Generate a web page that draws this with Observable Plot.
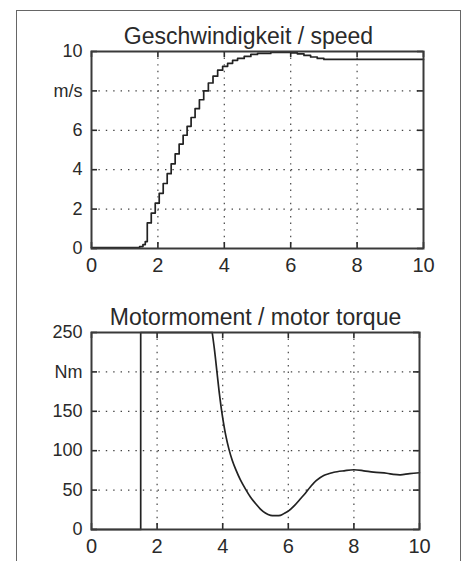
<!DOCTYPE html>
<html>
<head>
<meta charset="utf-8">
<script src="https://cdn.jsdelivr.net/npm/d3@7"></script>
<script src="https://cdn.jsdelivr.net/npm/@observablehq/plot@0.6"></script>
<style>
  html, body { margin: 0; padding: 0; background: #fff; }
  body { width: 466px; height: 561px; position: relative; overflow: hidden; font-family: "Liberation Sans", Arial, sans-serif; }
  #frame { position: absolute; left: 16px; top: 10px; width: 445px; height: 620px; border: 1.5px solid #666; box-sizing: border-box; }
  #topPanel { position: absolute; left: 0; top: 0; }
  #bottomPanel { position: absolute; left: 0; top: 280px; }
  svg { background: transparent !important; }
</style>
</head>
<body>
<div id="frame"></div>
<div id="topPanel"></div>
<div id="bottomPanel"></div>
<script>
// ---- data ----
const speedTitle = "Geschwindigkeit / speed";
const torqueTitle = "Motormoment / motor torque";
const xTicks = [0, 2, 4, 6, 8, 10];
const xGrid = [2, 4, 6, 8];
const speedTicks = [0, 2, 4, 6, 8, 10];
const speedGrid = [2, 4, 6, 8];
const speedUnit = "m/s";   // replaces tick 8
const torqueTicks = [0, 50, 100, 150, 200, 250];
const torqueGrid = [50, 100, 150, 200];
const torqueUnit = "Nm";   // replaces tick 200

const speedT = [0, 1.45, 1.55, 1.62, 1.68, 1.80, 1.92, 2.04, 2.16, 2.28, 2.40, 2.52, 2.64, 2.76, 2.88, 3.00, 3.12, 3.25, 3.38, 3.52, 3.66, 3.80, 3.95, 4.10, 4.25, 4.40, 4.60, 4.80, 5.00, 5.40, 6.00, 6.20, 6.40, 6.60, 6.80, 7.00, 10];
const speedV = [0.05, 0.1, 0.2, 0.35, 1.3, 1.8, 2.3, 2.8, 3.3, 3.8, 4.3, 4.8, 5.3, 5.75, 6.2, 6.65, 7.1, 7.55, 8.0, 8.4, 8.75, 9.05, 9.25, 9.4, 9.55, 9.65, 9.75, 9.85, 9.9, 9.95, 9.93, 9.88, 9.8, 9.72, 9.65, 9.6, 9.6];

// torque: switch-on step (first 4 points) followed by the smooth response
const torqueT = [0, 1.5, 1.5, 3.68, 3.75, 3.83, 3.9, 3.98, 4.09, 4.19, 4.29, 4.4, 4.54, 4.7, 4.85, 5.0, 5.15, 5.3, 5.46, 5.6, 5.76, 5.9, 6.02, 6.2, 6.37, 6.52, 6.67, 6.85, 7.08, 7.25, 7.39, 7.7, 8.0, 8.3, 8.6, 9.0, 9.2, 9.42, 9.7, 10];
const torqueV = [0, 0, 250, 250, 228, 198, 172, 147, 120, 102, 88, 76, 63, 51, 41, 33, 26, 21, 18, 17.5, 18, 21, 24, 31, 39, 46, 54, 62, 68.5, 71, 72.7, 74.5, 75.8, 74.5, 72.7, 71.4, 70, 69.4, 71, 72];

const speed = speedT.map((t, i) => ({t, v: speedV[i]}));
const torque = torqueT.map((t, i) => ({t, v: torqueV[i]}));
const torqueStep = torque.slice(0, 4);
const torqueSmooth = torque.slice(3);

const font = '"Liberation Sans", Arial, Helvetica, sans-serif';
const ink = "#2a2a2a";

function panel({lines, yDomain, yTicks, yGrid, unitTick, unit, title, titleDx, width, height, margin}) {
  const pw = width - margin.left - margin.right;
  const ph = height - margin.top - margin.bottom;
  return Plot.plot({
    width, height,
    marginLeft: margin.left, marginRight: margin.right,
    marginTop: margin.top, marginBottom: margin.bottom,
    style: {fontFamily: font, background: "transparent", color: ink},
    x: {domain: [0, 10]},
    y: {domain: yDomain},
    marks: [
      Plot.gridX(xGrid, {stroke: "#444", strokeOpacity: 1, strokeWidth: 1.2, strokeDasharray: "1.4,5.2"}),
      Plot.gridY(yGrid, {stroke: "#444", strokeOpacity: 1, strokeWidth: 1.2, strokeDasharray: "1.4,6"}),
      // inward ticks on all four sides
      Plot.tickX(xTicks, {x: d => d, insetTop: ph - 6, stroke: ink, strokeWidth: 1.6}),
      Plot.tickX(xTicks, {x: d => d, insetBottom: ph - 6, stroke: ink, strokeWidth: 1.6}),
      Plot.tickY(yTicks, {y: d => d, insetRight: pw - 6, stroke: ink, strokeWidth: 1.6}),
      Plot.tickY(yTicks, {y: d => d, insetLeft: pw - 6, stroke: ink, strokeWidth: 1.6}),
      Plot.axisX(xTicks, {tickSize: 0, tickPadding: 9, fontSize: 20, label: null, fill: ink}),
      Plot.axisY(yTicks, {tickSize: 0, tickPadding: 9, fontSize: 18, label: null, fill: ink,
        tickFormat: d => d === unitTick ? unit : String(d)}),
      ...lines.map(([data, curve]) => Plot.line(data, {x: "t", y: "v", curve, stroke: "#222", strokeWidth: 1.7})),
      Plot.frame({stroke: "#3a3a3a", strokeWidth: 2}),
      Plot.text([title], {frameAnchor: "top", dy: -8, dx: titleDx, lineAnchor: "bottom",
        fontSize: 23, fill: ink, text: d => d, style: "letter-spacing:0.3px"})
    ]
  });
}

const topChart = panel({
  lines: [[speed, "step-after"]], yDomain: [0, 10], yTicks: speedTicks, yGrid: speedGrid,
  unitTick: 8, unit: speedUnit, title: speedTitle, titleDx: -9,
  width: 466, height: 280, margin: {left: 91, right: 43, top: 51, bottom: 32}
});
const bottomChart = panel({
  lines: [[torqueStep, "linear"], [torqueSmooth, "catmull-rom"]], yDomain: [0, 250], yTicks: torqueTicks, yGrid: torqueGrid,
  unitTick: 200, unit: torqueUnit, title: torqueTitle, titleDx: 0,
  width: 466, height: 281, margin: {left: 91, right: 47, top: 52, bottom: 32}
});
document.getElementById("topPanel").append(topChart);
document.getElementById("bottomPanel").append(bottomChart);
</script>
</body>
</html>
